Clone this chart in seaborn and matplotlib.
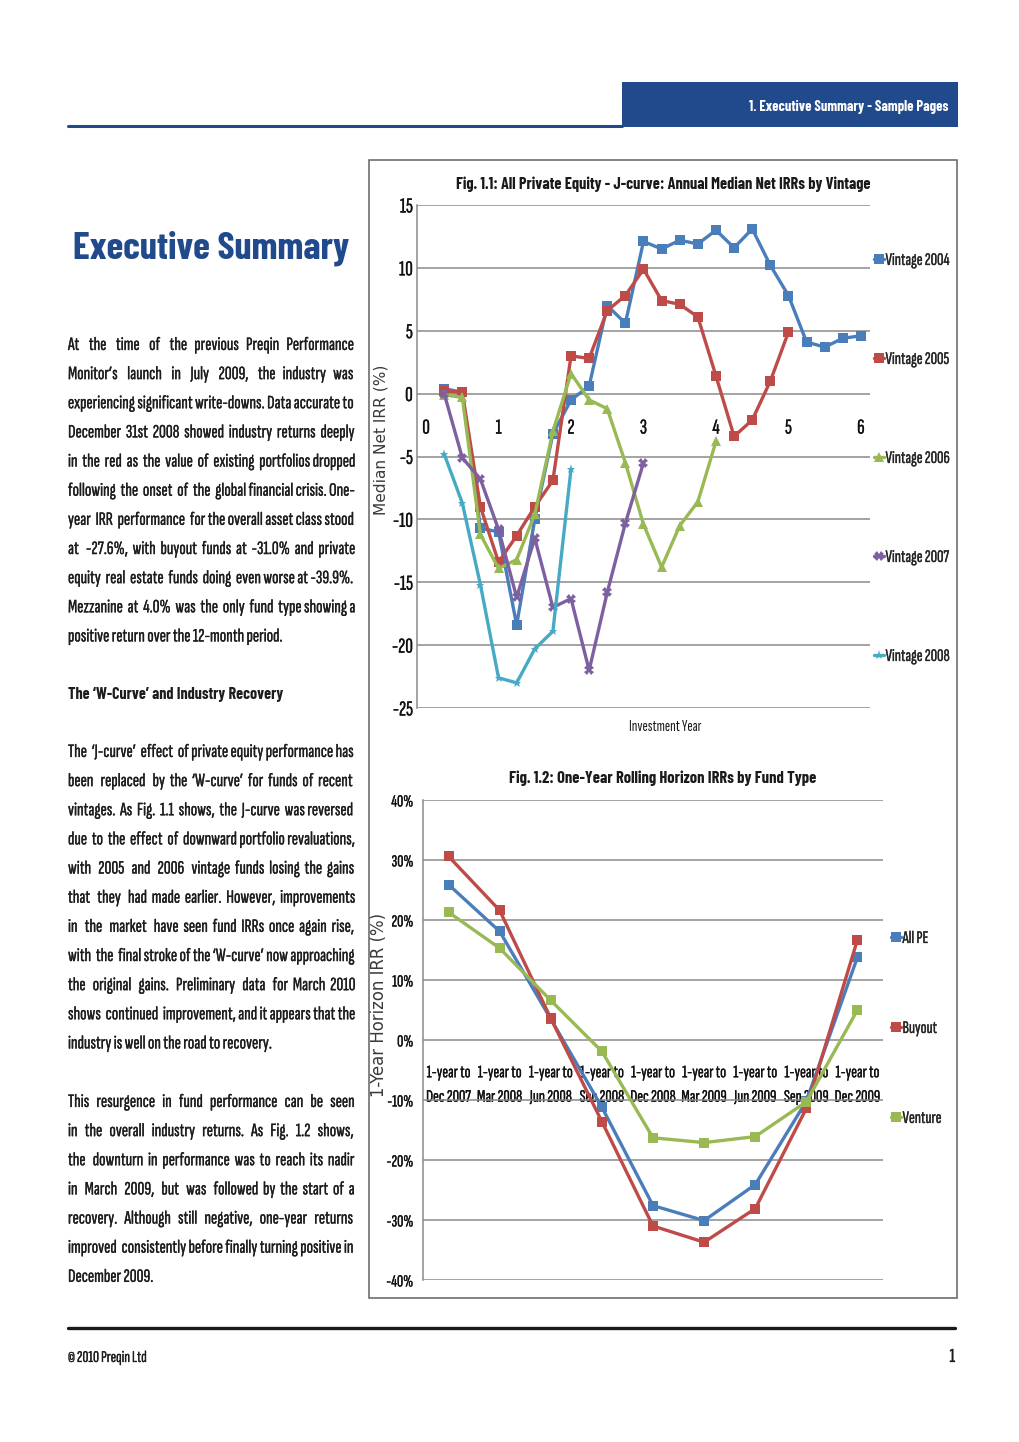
import matplotlib
matplotlib.use('Agg')
import matplotlib.pyplot as plt
import matplotlib.ticker as mticker
import matplotlib.patheffects as pe
from matplotlib.patches import Rectangle
from matplotlib.lines import Line2D
from matplotlib.textpath import TextPath
from matplotlib.font_manager import FontProperties, findfont
import pandas as pd
import seaborn as sns

W, H = 1020, 1442

# --- Fig. 1.1 data: median net IRR (%) by quarter of investment year ---
investment_year = [0.25, 0.5, 0.75, 1.0, 1.25, 1.5, 1.75, 2.0, 2.25, 2.5, 2.75, 3.0,
                   3.25, 3.5, 3.75, 4.0, 4.25, 4.5, 4.75, 5.0, 5.25, 5.5, 5.75, 6.0]
vintage_2004 = [0.4, 0.1, -10.7, -11.0, -18.4, -10.0, -3.2, -0.5, 0.6, 7.0, 5.6, 12.1,
                11.5, 12.2, 11.9, 13.0, 11.6, 13.1, 10.2, 7.8, 4.1, 3.7, 4.4, 4.6]
vintage_2005 = [0.2, 0.1, -9.0, -13.4, -11.3, -9.0, -6.9, 3.0, 2.8, 6.6, 7.8, 9.9,
                7.4, 7.1, 6.1, 1.4, -3.4, -2.1, 1.0, 4.9]
vintage_2006 = [-0.1, -0.3, -11.2, -13.9, -13.2, -9.6, -3.0, 1.6, -0.5, -1.2, -5.5, -10.4,
                -13.8, -10.5, -8.6, -3.8]
vintage_2007 = [0.0, -5.1, -6.8, -10.8, -16.2, -11.5, -17.0, -16.3, -22.0, -15.8, -10.3, -5.5]
vintage_2008 = [-4.8, -8.7, -15.2, -22.6, -23.0, -20.3, -18.9, -6.0]
vintage_names = ['Vintage 2004', 'Vintage 2005', 'Vintage 2006', 'Vintage 2007', 'Vintage 2008']
year_ticks = [0, 1, 2, 3, 4, 5, 6]
irr_ticks = [-25, -20, -15, -10, -5, 0, 5, 10, 15]

# --- Fig. 1.2 data: one-year rolling horizon IRR (%) ---
horizon_labels = ['1-year to\nDec 2007', '1-year to\nMar 2008', '1-year to\nJun 2008',
                  '1-year to\nSep 2008', '1-year to\nDec 2008', '1-year to\nMar 2009',
                  '1-year to\nJun 2009', '1-year to\nSep 2009', '1-year to\nDec 2009']
all_pe = [25.9, 18.1, 3.5, -11.2, -27.6, -30.1, -24.1, -10.2, 13.8]
buyout = [30.6, 21.6, 3.6, -13.6, -31.0, -33.7, -28.1, -11.4, 16.7]
venture = [21.3, 15.3, 6.6, -1.9, -16.3, -17.1, -16.1, -10.3, 5.0]
fund_types = ['All PE', 'Buyout', 'Venture']
horizon_ticks = [-40, -30, -20, -10, 0, 10, 20, 30, 40]

# --- page text ---
header_text = '1. Executive Summary - Sample Pages'
page_title = 'Executive Summary'
para_1 = ['At the time of the previous Preqin Performance',
          'Monitor\u2019s launch in July 2009, the industry was',
          'experiencing significant write-downs. Data accurate to',
          'December 31st 2008 showed industry returns deeply',
          'in the red as the value of existing portfolios dropped',
          'following the onset of the global financial crisis. One-',
          'year IRR performance for the overall asset class stood',
          'at -27.6%, with buyout funds at -31.0% and private',
          'equity real estate funds doing even worse at -39.9%.',
          'Mezzanine at 4.0% was the only fund type showing a',
          'positive return over the 12-month period.']
heading_2 = 'The \u2018W-Curve\u2019 and Industry Recovery'
para_2 = ['The \u2018J-curve\u2019 effect of private equity performance has',
          'been replaced by the \u2018W-curve\u2019 for funds of recent',
          'vintages. As Fig. 1.1 shows, the J-curve was reversed',
          'due to the effect of downward portfolio revaluations,',
          'with 2005 and 2006 vintage funds losing the gains',
          'that they had made earlier. However, improvements',
          'in the market have seen fund IRRs once again rise,',
          'with the final stroke of the \u2018W-curve\u2019 now approaching',
          'the original gains. Preliminary data for March 2010',
          'shows continued improvement, and it appears that the',
          'industry is well on the road to recovery.']
para_3 = ['This resurgence in fund performance can be seen',
          'in the overall industry returns. As Fig. 1.2 shows,',
          'the downturn in performance was to reach its nadir',
          'in March 2009, but was followed by the start of a',
          'recovery. Although still negative, one-year returns',
          'improved consistently before finally turning positive in',
          'December 2009.']

BLUE = '#214a8c'
TEXT = '#1f1c1d'
GRID = '#8a8a8a'


def has_bold(name):
    try:
        path = findfont(FontProperties(family=name, weight='bold'), fallback_to_default=False)
    except ValueError:
        return False
    return 'bold' in path.lower()


FONT = ['Sofia Sans Extra Condensed', 'PT Sans Narrow', 'DejaVu Sans']
BOLD = [next((f for f in ['Barlow Condensed', 'Roboto Condensed', 'Fira Sans Condensed'] if has_bold(f)),
             'DejaVu Sans'), 'DejaVu Sans']
LABEL_FONT = ['DejaVu Sans']
HEAVY = [pe.withStroke(linewidth=0.2, foreground=TEXT)]

sns.set_theme(style='white')
plt.rcParams['font.family'] = FONT
plt.rcParams['axes.unicode_minus'] = False

fig = plt.figure(figsize=(W / 100, H / 100), dpi=100)
renderer = fig.canvas.get_renderer()


def fx(x):
    return x / W


def fy(y):
    return 1 - y / H


def measure(s, dim='width', **kw):
    t = fig.text(0, 0, s, **kw)
    bb = t.get_window_extent(renderer)
    t.remove()
    return bb.width if dim == 'width' else bb.height


def fit_size(s, width, **kw):
    return 20 * width / measure(s, fontsize=20, **kw)


def cap_size(cap_px, family=FONT, weight='normal'):
    prop = FontProperties(family=family, weight=weight)
    h = TextPath((0, 0), 'H', size=100, prop=prop).get_extents().height
    return cap_px * 100 / h * 0.72


def fitted(x, y, s, width, ha='left', **kw):
    size = fit_size(s, width, **kw)
    return fig.text(fx(x), fy(y), s, fontsize=size, ha=ha, va='baseline', **kw)


def paragraph(lines, y0, size, step=29.15, x0=68, x1=355):
    # justified block: pad the gaps with whole spaces up to the column width
    space = measure('a a', fontsize=size) - measure('aa', fontsize=size)
    for i, line in enumerate(lines):
        words = line.split()
        s = ' '.join(words)
        if i < len(lines) - 1 and len(words) > 1:
            extra = int(round((x1 - x0 - measure(s, fontsize=size)) / space))
            gaps = len(words) - 1
            if extra > 0:
                parts = [words[0]]
                for g in range(gaps):
                    n = 1 + extra // gaps + (1 if g < extra % gaps else 0)
                    parts.append(' ' * n + words[g + 1])
                s = ''.join(parts)
        fig.text(fx(x0), fy(y0 + i * step), s, fontsize=size, color=TEXT, va='baseline',
                 path_effects=HEAVY)


def spacing_for(size, step_px):
    h = measure('Vintage', dim='height', fontsize=size)
    return (step_px - h) / (size * 100 / 72)


# --- page furniture ---
fig.add_artist(Rectangle((fx(622), fy(127)), (958 - 622) / W, 45 / H,
                         transform=fig.transFigure, color=BLUE, lw=0))
fig.add_artist(Line2D([fx(68), fx(622)], [fy(126), fy(126)], color=BLUE, lw=2.2))
fitted(948, 111, header_text, 200, ha='right', color='white', family=BOLD, weight='bold')
fitted(73, 258, page_title, 277, color=BLUE, family=BOLD, weight='bold')
fig.add_artist(Line2D([fx(68), fx(955)], [fy(1328), fy(1328)], color='#1a1a1a', lw=2.4))
fitted(68, 1362, '\u00a9 2010 Preqin Ltd', 79, color=TEXT, path_effects=HEAVY)
fig.text(fx(955), fy(1362), '1', ha='right', va='baseline', fontsize=cap_size(13), color=TEXT,
         path_effects=HEAVY)
fig.add_artist(Rectangle((fx(369), fy(1298)), (957 - 369) / W, (1298 - 160) / H,
                         transform=fig.transFigure, fill=False, ec='#6e6e6e', lw=1.2))

body_size = cap_size(16)
widest = max(measure(' '.join(l.split()), fontsize=body_size) for l in para_1 + para_2 + para_3)
body_size = body_size * min(1.0, 285 / widest)
paragraph(para_1, 350, body_size)
fitted(68, 699, heading_2, 215, color=TEXT, family=BOLD, weight='bold')
paragraph(para_2, 757, body_size)
paragraph(para_3, 1107, body_size)

# --- Fig. 1.1 ---
vintage_colors = dict(zip(vintage_names, ['#4a7ebb', '#be4b48', '#98b954', '#7d60a0', '#46aac5']))
vintage_markers = dict(zip(vintage_names, ['s', 's', '^', 'X', '*']))
vintage_series = [vintage_2004, vintage_2005, vintage_2006, vintage_2007, vintage_2008]
df_v = pd.concat([pd.DataFrame({'Investment Year': investment_year[:len(v)], 'IRR': v, 'Vintage': name})
                  for name, v in zip(vintage_names, vintage_series)], ignore_index=True)

ax1 = fig.add_axes([fx(417), fy(708), (870 - 417) / W, (708 - 205) / H])
sns.lineplot(data=df_v, x='Investment Year', y='IRR', hue='Vintage', style='Vintage',
             palette=vintage_colors, markers=vintage_markers, dashes=False, sort=False,
             linewidth=2.4, markersize=6.5, markeredgewidth=0, errorbar=None, ax=ax1)

tick_size = cap_size(14)
tick_fx = [pe.withStroke(linewidth=0.2, foreground='#111111')]
ax1.set_xlim(-0.125, 6.125)
ax1.set_ylim(-25, 15)
ax1.set_xticks(year_ticks)
ax1.set_yticks(irr_ticks)
ax1.set_axisbelow(True)
ax1.grid(axis='y', color=GRID, lw=1.1)
ax1.grid(axis='x', visible=False)
for side in ['top', 'right', 'bottom']:
    ax1.spines[side].set_visible(False)
ax1.spines['left'].set_color(GRID)
ax1.spines['left'].set_linewidth(1.1)
ax1.spines['bottom'].set_position(('data', 0))
ax1.tick_params(axis='x', length=0, pad=18, labelsize=tick_size, labelcolor='#111111')
ax1.tick_params(axis='y', length=0, pad=3, labelsize=tick_size, labelcolor='#111111')
for lab in ax1.get_xticklabels() + ax1.get_yticklabels():
    lab.set_path_effects(tick_fx)
ax1.set_ylabel('Median Net IRR (%)', family=LABEL_FONT, color='#3a3a3a',
               fontsize=fit_size('Median Net IRR (%)', 150, family=LABEL_FONT))
ax1.yaxis.label.set_va('center')
ax1.yaxis.set_label_coords((381 - 417) / 453, (708 - 440) / 503)
ax1.set_xlabel('Investment Year', color='#1a1a1a', fontsize=cap_size(10.5))
ax1.xaxis.label.set_va('center')
ax1.xaxis.set_label_coords((665 - 417) / 453, (708 - 727) / 503)
ax1.set_facecolor('none')

leg_size = min(cap_size(14), fit_size('Vintage 2004', 64))
sns.move_legend(ax1, 'center left', bbox_to_anchor=(fx(874), fy(458)), bbox_transform=fig.transFigure,
                title=None, frameon=False, fontsize=leg_size, labelspacing=spacing_for(leg_size, 99),
                handlelength=0.55, handletextpad=0.1, borderpad=0, borderaxespad=0)
for t in ax1.get_legend().get_texts():
    t.set_path_effects(HEAVY)
title_1 = 'Fig. 1.1: All Private Equity - J-curve: Annual Median Net IRRs by Vintage'
fitted(456, 189, title_1, 414, color='#1a1a1a', family=BOLD, weight='bold')

# --- Fig. 1.2 ---
fund_colors = dict(zip(fund_types, ['#4a7ebb', '#be4b48', '#98b954']))
df_h = pd.concat([pd.DataFrame({'Horizon': horizon_labels, 'IRR': v, 'Fund Type': name})
                  for name, v in zip(fund_types, [all_pe, buyout, venture])], ignore_index=True)

ax2 = fig.add_axes([fx(423), fy(1280), (883 - 423) / W, (1280 - 800) / H])
sns.lineplot(data=df_h, x='Horizon', y='IRR', hue='Fund Type', palette=fund_colors,
             marker='s', dashes=False, sort=False, linewidth=2.4, markersize=6.5,
             markeredgewidth=0, errorbar=None, ax=ax2)

ax2.set_xlim(-0.5, 8.5)
ax2.set_ylim(-40, 40)
ax2.set_yticks(horizon_ticks)
ax2.yaxis.set_major_formatter(mticker.FuncFormatter(lambda v, _: f'{v:.0f}%'))
ax2.set_axisbelow(True)
ax2.grid(axis='y', color=GRID, lw=1.1)
ax2.grid(axis='x', visible=False)
for side in ['top', 'right', 'bottom']:
    ax2.spines[side].set_visible(False)
ax2.spines['left'].set_color(GRID)
ax2.spines['left'].set_linewidth(1.1)
ax2.spines['bottom'].set_position(('data', 0))
xt2 = min(cap_size(13), fit_size('Dec 2007', 45))
ax2.tick_params(axis='x', length=0, pad=17.5, labelsize=xt2, labelcolor='#111111')
for lab in ax2.get_xticklabels():
    lab.set_linespacing(1.65)
yt2 = min(cap_size(13.5), fit_size('-10%', 26))
ax2.tick_params(axis='y', length=0, pad=7, labelsize=yt2, labelcolor='#111111')
for lab in ax2.get_xticklabels() + ax2.get_yticklabels():
    lab.set_path_effects(tick_fx)
ax2.set_ylabel('1-Year Horizon IRR (%)', family=LABEL_FONT, color='#3a3a3a',
               fontsize=fit_size('1-Year Horizon IRR (%)', 185, family=LABEL_FONT))
ax2.yaxis.label.set_va('center')
ax2.yaxis.set_label_coords((379 - 423) / 460, (1280 - 1005) / 480)
ax2.set_xlabel('')
ax2.set_facecolor('none')

sns.move_legend(ax2, 'center left', bbox_to_anchor=(fx(891), fy(1028)), bbox_transform=fig.transFigure,
                title=None, frameon=False, fontsize=leg_size, labelspacing=spacing_for(leg_size, 90),
                handlelength=0.55, handletextpad=0.1, borderpad=0, borderaxespad=0)
for t in ax2.get_legend().get_texts():
    t.set_path_effects(HEAVY)
title_2 = 'Fig. 1.2: One-Year Rolling Horizon IRRs by Fund Type'
fitted(509, 783, title_2, 308, color='#1a1a1a', family=BOLD, weight='bold')

fig.savefig('out.png', dpi=100, facecolor='white')
